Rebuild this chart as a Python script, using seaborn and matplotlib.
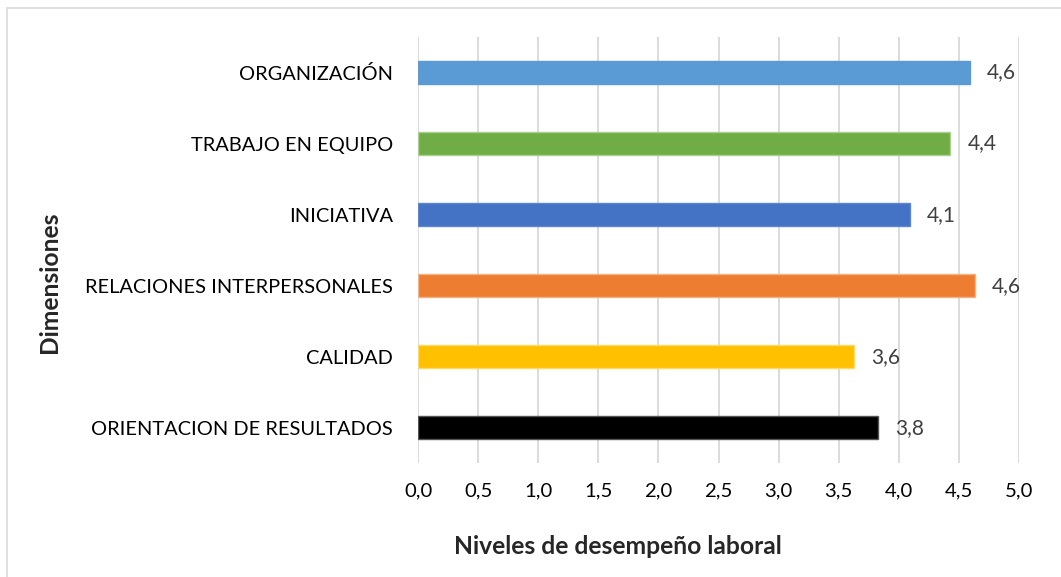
import matplotlib
matplotlib.use("Agg")
import matplotlib.pyplot as plt
import seaborn as sns
import pandas as pd
from matplotlib.patches import Rectangle

categories = ["ORGANIZACIÓN", "TRABAJO EN EQUIPO", "INICIATIVA",
              "RELACIONES INTERPERSONALES", "CALIDAD", "ORIENTACION DE RESULTADOS"]
values = [4.59, 4.43, 4.09, 4.63, 3.63, 3.83]
colors = ["#5B9BD5", "#70AD47", "#4472C4", "#ED7D31", "#FFC000", "#000000"]
edge_colors = ["#5B9BD5", "#A9D18E", "#5B86D0", "#F4B183", "#FFD966", "#555555"]
xticks = [0, 0.5, 1, 1.5, 2, 2.5, 3, 3.5, 4, 4.5, 5]

sns.set_style("white")
plt.rcParams['font.family'] = ['Lato', 'DejaVu Sans']

df = pd.DataFrame({"cat": categories, "val": values})

fig = plt.figure(figsize=(10.61, 5.77), dpi=100)
ax = fig.add_axes([0.394, 0.197, 0.5664, 0.739])

sns.barplot(data=df, y="cat", x="val", hue="cat", palette=colors,
            order=categories, hue_order=categories, legend=False,
            width=0.32, saturation=1, ax=ax, zorder=3)

for p, ec in zip(ax.patches, edge_colors):
    p.set_edgecolor(ec)
    p.set_linewidth(1.0)

ax.set_xlim(0, 5)
ax.set_ylim(len(categories) - 0.5, -0.5)
ax.set_xticks(xticks)
ax.set_xticklabels([f"{t:.1f}".replace(".", ",") for t in xticks],
                   fontsize=14.6, color="#000000")
ax.tick_params(axis="y", labelsize=14.4, colors="#000000", length=0, pad=18)
ax.tick_params(axis="x", length=0, pad=14)
ax.grid(axis="x", color="#D9D9D9", linewidth=1.3, zorder=0)
ax.grid(axis="y", visible=False)
for s in ax.spines.values():
    s.set_visible(False)

for i, v in enumerate(values):
    ax.text(v + 0.14, i, f"{v:.1f}".replace(".", ","), va="center", ha="left",
            fontsize=15, color="#404040")

ax.set_xlabel("")
ax.set_ylabel("")
fig.text(0.5825, 0.052, "Niveles de desempeño laboral", fontsize=17.7,
         fontweight="bold", ha="center", va="center")
fig.text(0.047, 0.511, "Dimensiones", rotation=90, fontsize=17.7, fontweight="bold",
         ha="center", va="center")

fig.patches.append(Rectangle((0.0066, -0.01), 1.1, 1.0 - 0.0066 + 0.01 - 0.0066,
                             transform=fig.transFigure, fill=False,
                             edgecolor="#D9D9D9", linewidth=1.2))

fig.savefig("out.png", dpi=100)
